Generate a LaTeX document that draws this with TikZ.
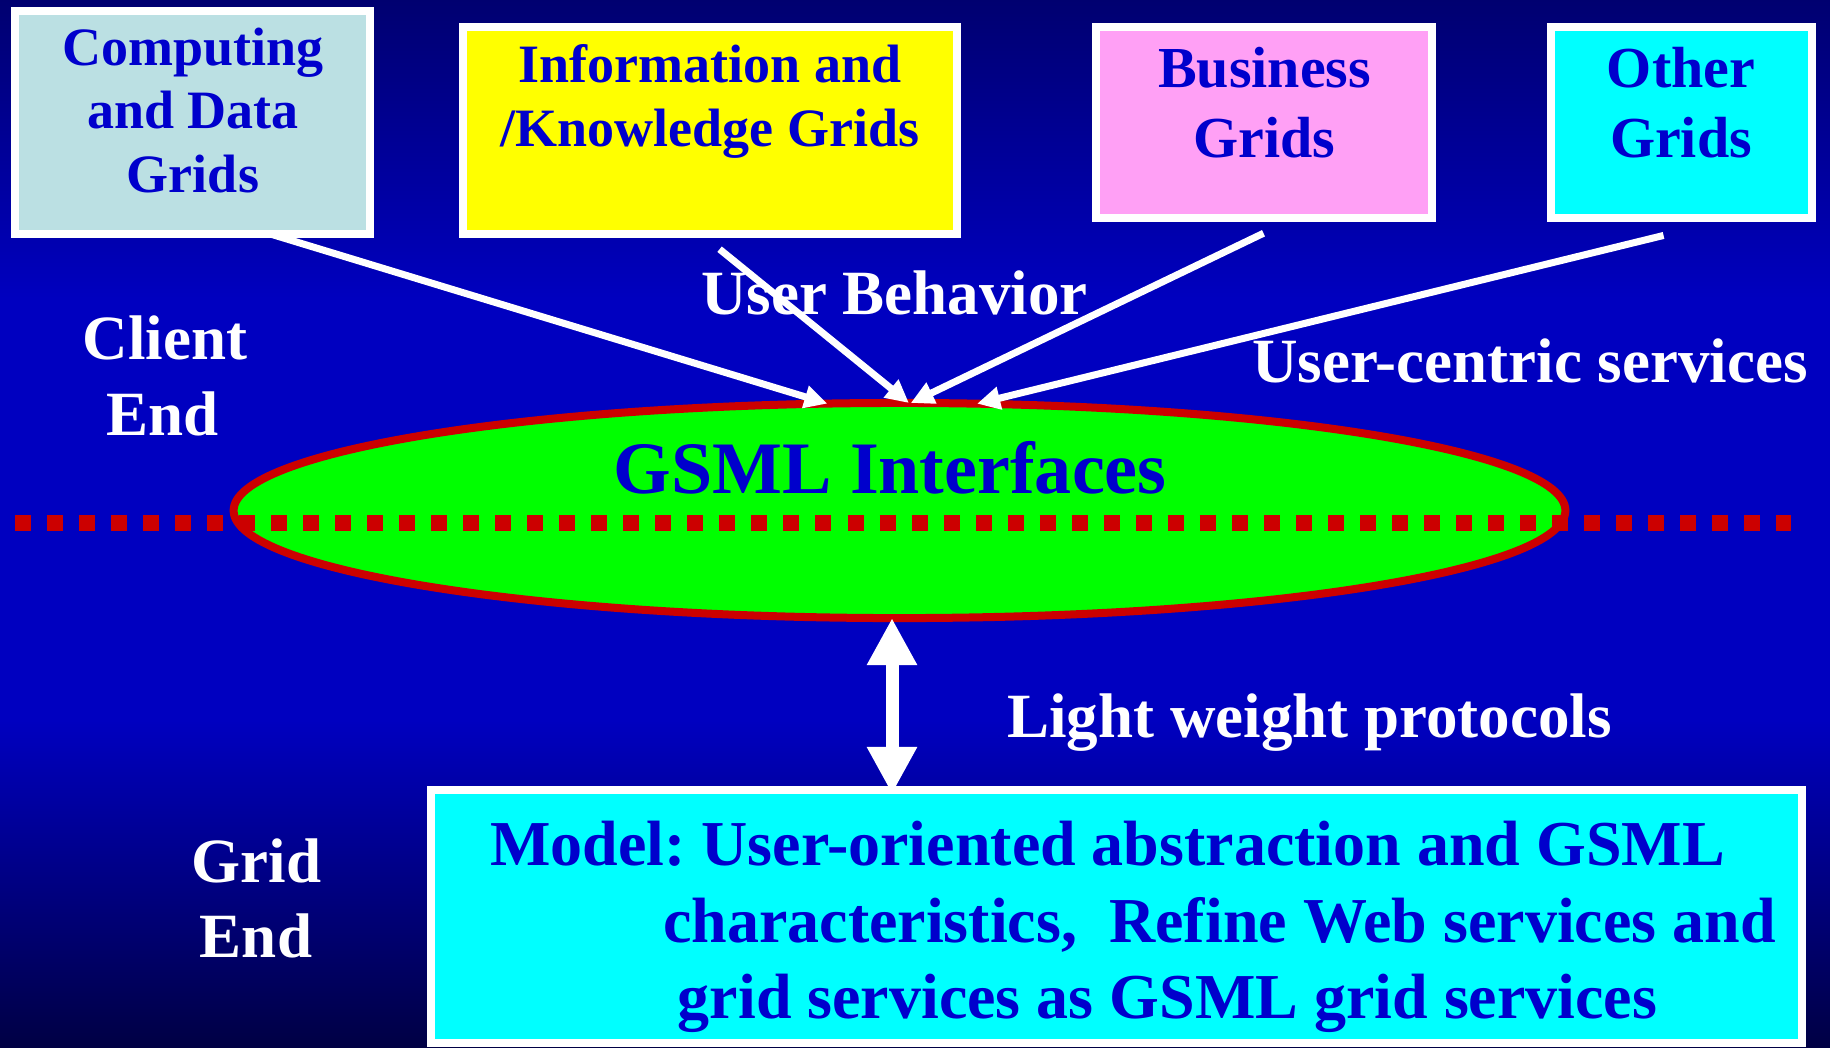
\documentclass[tikz,border=0pt]{standalone}
\usepackage{fontspec}
\setmainfont{Liberation Serif}
\usetikzlibrary{arrows.meta,shapes.geometric}

\definecolor{bgtop}{RGB}{0,0,112}
\definecolor{bgmid}{RGB}{0,0,192}
\definecolor{bgbot}{RGB}{0,0,68}
\definecolor{textblue}{RGB}{0,0,204}
\definecolor{gsmlred}{RGB}{204,0,0}
\definecolor{gsmlgreen}{RGB}{0,255,0}
\definecolor{compfill}{RGB}{187,224,227}
\definecolor{infofill}{RGB}{255,255,0}
\definecolor{pinkfill}{RGB}{255,160,245}
\definecolor{cyanfill}{RGB}{0,255,255}

\frenchspacing
\begin{document}
\begin{tikzpicture}[x=0.01cm,y=-0.01cm,
  gridbox/.style={rectangle,draw=white,line width=0.08cm,inner sep=0pt,outer sep=0pt},
  boxtxt/.style={text=textblue,font=\fontsize{15.36pt}{18pt}\selectfont\bfseries,inner sep=0pt,anchor=base},
  boxtxtbig/.style={text=textblue,font=\fontsize{16.5pt}{19pt}\selectfont\bfseries,inner sep=0pt,anchor=base},
  whitetxt/.style={text=white,font=\fontsize{17.92pt}{21pt}\selectfont\bfseries,inner sep=0pt,anchor=base},
  modeltxt/.style={text=textblue,font=\fontsize{18.2pt}{21pt}\selectfont\bfseries,inner sep=0pt,anchor=base},
  conn/.style={draw=white,line width=0.07cm,-{Triangle[length=0.23cm,width=0.22cm]}},
  bigtip/.tip={Triangle[length=0.47cm,width=0.47cm]}
]

% background gradient
\useasboundingbox (0,0) rectangle (1830,1047);
\shade[top color=bgtop,bottom color=bgmid] (0,0) rectangle (1830,302);
\fill[bgmid] (0,300) rectangle (1830,722);
\shade[top color=bgmid,bottom color=bgbot] (0,720) rectangle (1830,1047);

% grid category boxes
\node[gridbox,fill=compfill,minimum width=3.55cm,minimum height=2.23cm] (comp) at (192.5,122.5) {};
\node[gridbox,fill=infofill,minimum width=4.94cm,minimum height=2.07cm] (info) at (710,130.5) {};
\node[gridbox,fill=pinkfill,minimum width=3.36cm,minimum height=1.91cm] (bus) at (1264,122.5) {};
\node[gridbox,fill=cyanfill,minimum width=2.61cm,minimum height=1.91cm] (other) at (1681.5,122.5) {};

\node[boxtxt] (comp1) at (193,65) {Computing};
\node[boxtxt] (comp2) at (193,128) {and Data};
\node[boxtxt] (comp3) at (193,192) {Grids};
\node[boxtxt] (info1) at (710,82) {Information and};
\node[boxtxt] (info2) at (710,146) {/Knowledge Grids};
\node[boxtxtbig] (bus1) at (1264.5,87) {Business};
\node[boxtxtbig] (bus2) at (1264.5,157) {Grids};
\node[boxtxtbig] (oth1) at (1681,87) {Other};
\node[boxtxtbig] (oth2) at (1681,157) {Grids};

% interface ellipse and client/grid separator
\node[ellipse,draw=gsmlred,fill=gsmlgreen,line width=0.08cm,minimum width=13.31cm,minimum height=2.15cm,inner sep=0pt,outer sep=0pt] (gsml) at (899.5,510.5) {};
\draw[gsmlred,line width=0.16cm,dash pattern=on 0.16cm off 0.16cm] (15,523) -- (1791,523);
\node[text=textblue,font=\fontsize{21.05pt}{25pt}\selectfont\bfseries,inner sep=0pt,anchor=base] (gsmltxt) at (890,493) {GSML Interfaces};

% model box
\node[gridbox,fill=cyanfill,minimum width=13.71cm,minimum height=2.53cm] (model) at (1116.5,916.5) {};
\node[modeltxt] (mod1) at (1107.5,865) {Model: User-oriented abstraction and GSML};
\node[modeltxt] (mod2) at (1219.5,942) {characteristics,~ Refine Web services and};
\node[modeltxt] (mod3) at (1167.5,1018) {grid services as GSML grid services};

% side labels
\node[whitetxt] (client1) at (165,359) {Client};
\node[whitetxt] (client2) at (162.5,435) {End};
\node[whitetxt] (gridend1) at (256.5,882) {Grid};
\node[whitetxt] (gridend2) at (256,957) {End};
\node[whitetxt] (behav) at (894.5,314) {User Behavior};
\node[whitetxt] (ucs) at (1530,382) {User-centric services};
\node[whitetxt] (lwp) at (1309.5,737) {Light weight protocols};

% connectors
\draw[conn] (comp.-55) -- (gsml.124);
\draw[conn,shorten <=0.24cm] (info.-95) -- (gsml.85.5);
\draw[conn,shorten <=0.35cm] (bus.-72.6) -- (gsml.84.5);
\draw[conn,shorten <=0.73cm] (other.-61.9) -- (gsml.54.4);
\draw[white,line width=0.13cm,{bigtip}-{bigtip},shorten >=-0.04cm] (gsml.-94) -- (gsml.-94 |- model.north);
\end{tikzpicture}
\end{document}
